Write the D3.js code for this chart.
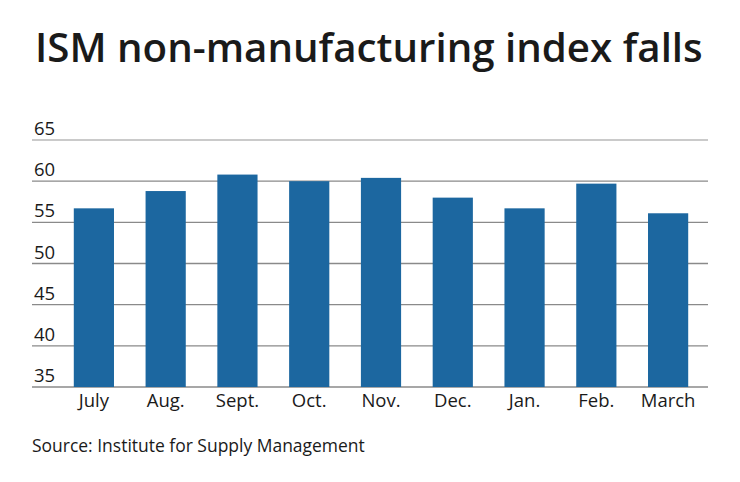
<!DOCTYPE html>
<html>
<head>
<meta charset="utf-8">
<script src="https://cdn.jsdelivr.net/npm/d3@7"></script>
<style>
  body { margin: 0; background: #fff; }
  svg text { font-family: "Open Sans", Lato, sans-serif; fill: #1a1a1a; }
</style>
</head>
<body>
<div id="chart"></div>
<script>
const months = ['July', 'Aug.', 'Sept.', 'Oct.', 'Nov.', 'Dec.', 'Jan.', 'Feb.', 'March'];
const indexValues = [56.7, 58.8, 60.8, 60.0, 60.4, 58.0, 56.7, 59.7, 56.1];
const yTicks = [35, 40, 45, 50, 55, 60, 65];

const titleText = 'ISM non-manufacturing index falls';
const sourceText = 'Source: Institute for Supply Management';

const width = 740, height = 482;

const svg = d3.select('#chart').append('svg')
    .attr('width', width)
    .attr('height', height);

// size a text so it spans the given width
function fitWidth(sel, size, target) {
    const w = sel.node().getComputedTextLength();
    sel.attr('font-size', size * target / w);
}

const title = svg.append('text')
    .attr('x', 35)
    .attr('y', 62)
    .attr('font-size', 40)
    .attr('font-weight', 600)
    .text(titleText);
fitWidth(title, 40, 668);

const gridLeft = 32, gridRight = 708;

const y = d3.scaleLinear()
    .domain([35, 65])
    .range([387, 140]);

const x = d3.scaleBand()
    .domain(months)
    .range([58, 704])
    .paddingInner(0.44)
    .paddingOuter(0.22);

// gridlines
svg.append('g')
    .selectAll('line')
    .data(yTicks)
    .enter().append('line')
    .attr('x1', gridLeft)
    .attr('x2', gridRight)
    .attr('y1', d => y(d))
    .attr('y2', d => y(d))
    .attr('stroke', d => d === 65 ? '#b8b8b8' : '#8a8a8a')
    .attr('stroke-width', 1.3);

// y labels sit just above each line
svg.append('g')
    .selectAll('text')
    .data(yTicks)
    .enter().append('text')
    .attr('x', 34)
    .attr('y', d => y(d) - 5)
    .attr('font-size', 18.5)
    .text(d => d);

// bars
svg.append('g')
    .selectAll('rect')
    .data(indexValues)
    .enter().append('rect')
    .attr('x', (d, i) => x(months[i]))
    .attr('y', d => y(d))
    .attr('width', x.bandwidth())
    .attr('height', d => y(35) - y(d))
    .attr('fill', '#1c67a0');

// x labels
svg.append('g')
    .selectAll('text')
    .data(months)
    .enter().append('text')
    .attr('x', d => x(d) + x.bandwidth() / 2)
    .attr('y', 407)
    .attr('text-anchor', 'middle')
    .attr('font-size', 18.5)
    .text(d => d);

const source = svg.append('text')
    .attr('x', 32)
    .attr('y', 452)
    .attr('font-size', 16.5)
    .text(sourceText);
fitWidth(source, 16.5, 333);
</script>
</body>
</html>
